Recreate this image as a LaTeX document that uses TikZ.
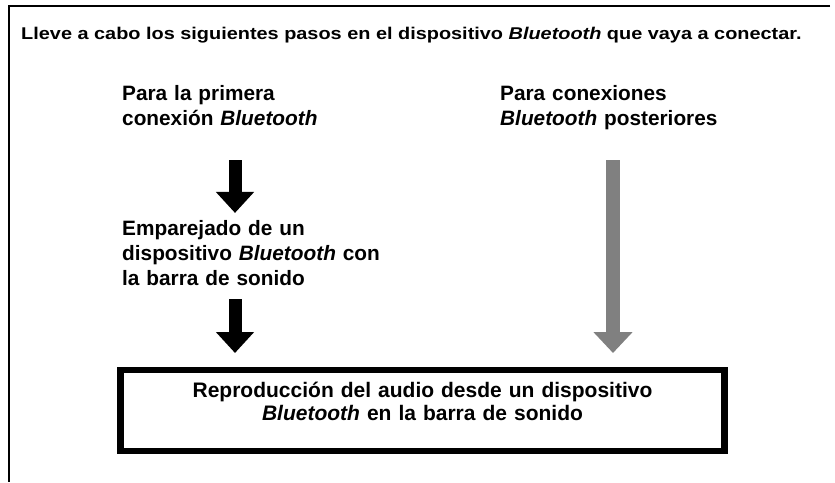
\documentclass[tikz,border=0pt]{standalone}
\usepackage{fontspec}
\setmainfont{Liberation Sans}
\newfontfamily\introfont{Liberation Sans}[FakeStretch=1.17]
\usetikzlibrary{arrows.meta, positioning}
\definecolor{arrowgray}{RGB}{128,128,128}

\begin{document}
\begin{tikzpicture}[
    x=1pt, y=-1pt,
    intro/.style={anchor=base west, inner sep=0pt,
                  font=\introfont\fontsize{17}{20}\selectfont\bfseries},
    heading/.style={anchor=base west, inner sep=0pt, align=left,
                    text width=280pt,
                    font=\fontsize{20.8}{25}\selectfont\bfseries},
    playbox/.style={draw, line width=6.5pt, minimum width=604pt,
                    minimum height=81pt, inner sep=0pt,
                    text width=600pt, align=center,
                    text height=15pt, text depth=42pt,
                    font=\fontsize{21}{23}\selectfont\bfseries},
    blockarrow/.style={-{Triangle[width=37pt, length=21pt]}, line width=13pt},
    grayarrow/.style={-{Triangle[width=38pt, length=21pt]}, line width=14pt,
                      color=arrowgray}
]
\useasboundingbox (0,0) rectangle (835,482);

% outer frame
\draw[line width=1.8pt] (830,6) -- (9,6) -- (9,482);

\node (title) [intro]   at (21,39)   {Lleve a cabo los siguientes pasos en el dispositivo \textit{Bluetooth} que vaya a conectar.};
\node (first) [heading] at (122,100) {Para la primera\\conexión \textit{Bluetooth}};
\node (later) [heading] at (500,100) {Para conexiones\\\textit{Bluetooth} posteriores};
\node (pair)  [heading] at (122,235) {Emparejado de un\\dispositivo \textit{Bluetooth} con\\la barra de sonido};
\node (play)  [playbox] at (422.5,410.5) {Reproducción del audio desde un dispositivo\\\textit{Bluetooth} en la barra de sonido};

\coordinate (colL) at (235,0);
\coordinate (colR) at (613,0);

\draw [blockarrow, shorten <=35pt, shorten >=6.8pt]    (first.south -| colL) -- (pair.north -| colL);
\draw [blockarrow, shorten <=14pt, shorten >=13.75pt]  (pair.south -| colL)  -- (play.north -| colL);
\draw [grayarrow,  shorten <=30.6pt, shorten >=13.75pt] (later.south -| colR) -- (play.north -| colR);
\end{tikzpicture}
\end{document}
